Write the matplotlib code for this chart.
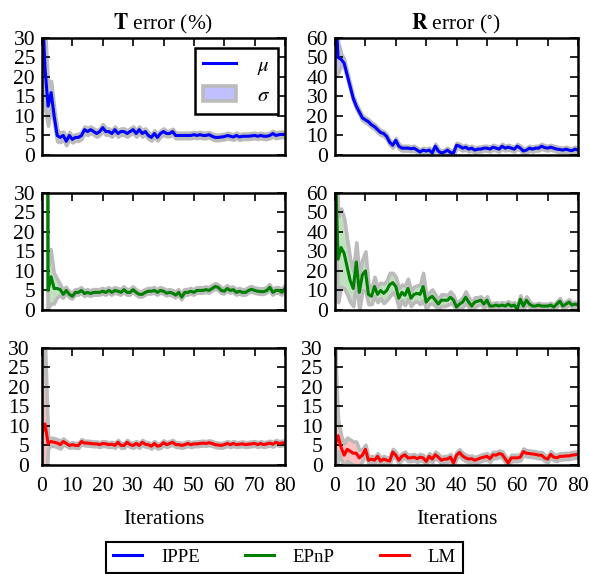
import numpy as np
import matplotlib
matplotlib.use('Agg')
import matplotlib.pyplot as plt
from matplotlib.patches import Patch
from matplotlib.lines import Line2D

plt.rcParams['font.family'] = ['Liberation Serif', 'DejaVu Serif']
plt.rcParams['mathtext.fontset'] = 'stix'
plt.rcParams['font.size'] = 15.5

iterations = np.arange(0, 81)

# IPPE
ippe_t_mu = [40, 22, 12.5, 16, 10, 5, 4.5, 5, 3.5, 5,
             4, 4.5, 4.5, 5, 6.5, 6, 6.5, 6, 5.5, 6,
             7, 6, 6, 5.5, 6.5, 5.5, 6, 6, 5.5, 6,
             6.5, 5.5, 6.5, 5.5, 6, 5, 4.5, 5.5, 4.5, 5.5,
             6, 5.5, 5.5, 6, 5, 5, 5, 5, 5, 5,
             5.2, 5, 5.2, 5, 5, 5.2, 4.8, 4.5, 4.5, 4.6,
             4.7, 5, 4.8, 4.6, 5, 4.6, 4.8, 4.8, 4.8, 4.9,
             5, 4.8, 5, 4.8, 4.8, 5, 5.5, 5, 5.2, 5.3,
             5.2]
ippe_t_sd = [20, 10, 5, 3, 2, 1.5, 1.2, 1, 1, 0.9,
             0.8, 0.8, 0.9, 0.8, 0.8, 0.9, 0.8, 0.8, 0.8, 0.8,
             0.9, 0.8, 0.8, 0.8, 0.8, 0.8, 0.8, 0.8, 0.8, 0.8,
             0.8, 0.8, 0.8, 0.8, 0.8, 0.8, 0.8, 0.8, 0.8, 0.8,
             0.8, 0.7, 0.7, 0.7, 0.7, 0.7, 0.7, 0.7, 0.7, 0.7,
             0.7, 0.7, 0.7, 0.7, 0.7, 0.7, 0.7, 0.7, 0.7, 0.7,
             0.7, 0.7, 0.7, 0.7, 0.7, 0.7, 0.7, 0.7, 0.7, 0.7,
             0.7, 0.7, 0.7, 0.7, 0.7, 0.7, 0.7, 0.7, 0.7, 0.7,
             0.7]
ippe_r_mu = [80, 50, 49, 47, 41, 35, 29, 25, 22, 19,
             18, 17, 15.5, 14.5, 13, 11.5, 11, 9.5, 6.5, 5,
             7.5, 4.5, 3.5, 3.5, 3.5, 3.2, 3.5, 2.5, 1.5, 2.5,
             2, 2.5, 1, 4.5, 2, 1, 1.5, 2.5, 1.2, 1,
             5, 4.5, 3.5, 4, 3, 3.5, 2.5, 3, 3, 3.5,
             3.5, 3, 4, 3.5, 3, 4.5, 3.5, 4, 3.5, 3,
             4.5, 3.5, 2, 2.5, 3.5, 3, 3.5, 3.5, 4.5, 3.8,
             3.5, 4, 3.5, 3, 2.8, 2.5, 3, 2.5, 2.2, 3,
             2.5]
ippe_r_sd = [40, 8, 3, 2, 1.5, 1.2, 1.2, 1.2, 1.2, 1.2,
             1.2, 1.2, 1.2, 1.2, 1.2, 1.2, 1.2, 1.2, 1.2, 1.2,
             1.2, 1.2, 1.2, 1.2, 1.2, 1.2, 1.2, 1.2, 1.2, 1.2,
             1.2, 1.2, 1.2, 1.2, 1.2, 1.2, 1.2, 1.2, 1.2, 1.2,
             1.2, 1.2, 1.2, 1.2, 1.2, 1.2, 1.2, 1.2, 1.2, 1.2,
             1.2, 1.2, 1.2, 1.2, 1.2, 1.2, 1.2, 1.2, 1.2, 1.2,
             1.2, 1.2, 1.2, 1.2, 1.2, 1.2, 1.2, 1.2, 1.2, 1.2,
             1.2, 1.2, 1.2, 1.2, 1.2, 1.2, 1.2, 1.2, 1.2, 1.2,
             1.2]

# EPnP
epnp_t_mu = [300, 300, 5, 8.5, 5.5, 5.5, 5.2, 4, 5, 4,
             3.5, 4.5, 4.5, 5, 4.2, 4.5, 4.2, 4.5, 4.5, 4.5,
             4.8, 4.5, 5, 4.5, 5, 4.8, 4.5, 5.2, 4.5, 4.5,
             5.2, 4.5, 4, 4, 4.5, 4.8, 4.8, 5, 4.5, 5,
             4.8, 4.3, 4.5, 4.3, 3.8, 4.5, 3.3, 4.5, 4.5, 4.8,
             4.5, 5, 5, 5, 5.2, 5, 5.5, 6, 5.8, 5,
             4.8, 5.5, 5, 5.2, 4.5, 4.8, 4.5, 4.5, 5, 5.3,
             5, 4.8, 4.7, 4.7, 5, 5.8, 4.5, 5, 5, 4.5,
             5.5]
epnp_t_sd = [10, 10, 5, 7, 4, 2.5, 1.5, 1, 0.8, 0.8,
             0.7, 0.7, 0.7, 0.7, 0.7, 0.7, 0.7, 0.7, 0.7, 0.7,
             0.7, 0.7, 0.7, 0.7, 0.7, 0.7, 0.7, 0.7, 0.7, 0.7,
             0.7, 0.7, 0.7, 0.7, 0.7, 0.7, 0.7, 0.7, 0.7, 0.7,
             0.7, 0.7, 0.7, 0.7, 0.7, 0.7, 0.7, 0.7, 0.7, 0.7,
             0.7, 0.7, 0.7, 0.7, 0.7, 0.7, 0.7, 0.7, 0.7, 0.7,
             0.7, 0.7, 0.7, 0.7, 0.7, 0.7, 0.7, 0.7, 0.7, 0.7,
             0.7, 0.7, 0.7, 0.7, 0.7, 0.7, 0.7, 0.7, 0.7, 0.7,
             0.7]
epnp_r_mu = [80, 26, 32, 29, 22, 15, 11, 24.6, 9, 18,
             20, 8, 7, 12, 8, 10, 8.5, 10, 13, 14,
             12, 6, 9, 7.5, 11, 6, 8, 8.5, 8, 12,
             4, 6, 7, 5, 3, 5, 5, 5, 6.5, 5,
             1.5, 3, 4, 6.5, 4, 2, 4, 4.5, 5, 3,
             5, 2, 2, 2.5, 2, 2.5, 2, 3, 2, 2.5,
             0.5, 5.5, 2, 5, 3, 2, 2, 2.5, 2, 2,
             2, 2.5, 1.5, 3, 4.5, 2, 3, 4, 2.5, 3,
             2.5]
epnp_r_sd = [30, 22, 20, 18, 14, 11, 9, 10, 9, 8,
             10, 5, 4, 5, 4, 4, 5, 5, 6, 5,
             5, 5, 4, 5, 5, 4, 4, 4, 5, 7,
             3.5, 3, 3.5, 3, 2.5, 3, 3, 2.5, 3, 2.5,
             2, 2, 2.5, 3, 2.5, 2, 2.5, 2, 2, 2,
             2, 1.5, 1.5, 1.5, 1.5, 1.5, 1.5, 1.5, 1.5, 1.5,
             1.5, 2, 1.5, 2, 1.5, 1.2, 1.2, 1.2, 1.2, 1.2,
             1.2, 1.2, 1.2, 1.5, 1.5, 1.2, 1.5, 1.5, 1.2, 1.2,
             1.2]

# LM
lm_t_mu = [8, 10.5, 5.5, 6, 5.8, 5.6, 5.2, 6, 5.5, 5,
           5.2, 5, 5, 6, 5.6, 5.6, 5.5, 5.4, 5.4, 5.2,
           5.5, 5.4, 5.2, 5.3, 5, 5.8, 5, 5, 5.8, 5.2,
           5, 5.5, 5, 5.8, 5.3, 5.2, 4.8, 5.5, 4.8, 5,
           5.7, 5.2, 5.5, 5.8, 5.2, 5.2, 5, 5.2, 5.5, 5.2,
           5.4, 5.4, 5.5, 5.6, 5.5, 5.7, 5.5, 5.2, 5.1, 5,
           5.2, 5.5, 5.2, 5.5, 5.2, 5.3, 5.4, 5.2, 5.3, 5.4,
           5.5, 5.2, 5.5, 5.2, 5.4, 5.6, 5.3, 5.8, 5.5, 5.6,
           5.7]
lm_t_sd = [25, 20, 1.2, 1, 1, 1, 1, 0.8, 0.6, 0.6,
           0.6, 0.6, 0.6, 0.6, 0.6, 0.6, 0.6, 0.6, 0.6, 0.6,
           0.6, 0.6, 0.6, 0.6, 0.6, 0.6, 0.6, 0.6, 0.6, 0.6,
           0.6, 0.6, 0.6, 0.6, 0.6, 0.6, 0.6, 0.6, 0.6, 0.6,
           0.6, 0.6, 0.6, 0.6, 0.6, 0.6, 0.6, 0.6, 0.6, 0.6,
           0.6, 0.6, 0.6, 0.6, 0.6, 0.6, 0.6, 0.6, 0.6, 0.6,
           0.6, 0.6, 0.6, 0.6, 0.6, 0.6, 0.6, 0.6, 0.6, 0.6,
           0.6, 0.6, 0.6, 0.6, 0.6, 0.6, 0.6, 0.6, 0.6, 0.6,
           0.6]
lm_r_mu = [5, 7.5, 4.5, 2.5, 4, 3.5, 3, 3, 1.8, 2.5,
           4, 1.2, 1.5, 1.2, 2.2, 1, 1.5, 1.2, 1, 3.3,
           2.5, 1.2, 2.2, 2.6, 1.8, 1.8, 2, 1.6, 2, 1.8,
           0.9, 2.2, 1.5, 2.6, 2, 1.2, 1.5, 1.5, 2, 0.5,
           2.5, 3.2, 2.3, 1.8, 1.5, 1.6, 1.2, 1.5, 1.8, 2,
           2.2, 1.6, 2.6, 2.5, 2.9, 2.7, 1.6, 0.5, 1.8, 1.8,
           1.8, 2, 3.4, 3, 2.9, 2.8, 2.7, 2.5, 2.5, 1.8,
           1.5, 2.7, 2, 1.8, 2.2, 2.2, 2.3, 2.3, 2.5, 2.6,
           2.7]
lm_r_sd = [25, 4, 3, 3, 3, 3, 3, 3, 2, 1.5,
           1.2, 0.8, 0.8, 0.8, 0.8, 0.8, 0.8, 0.8, 0.8, 0.8,
           0.8, 0.8, 0.8, 0.8, 0.8, 0.8, 0.8, 0.8, 0.8, 0.8,
           0.8, 0.8, 0.8, 0.8, 0.8, 0.8, 0.8, 0.8, 0.8, 0.8,
           0.8, 0.8, 0.8, 0.8, 0.8, 0.8, 0.8, 0.8, 0.8, 0.8,
           0.8, 0.8, 0.8, 0.8, 0.8, 0.8, 0.8, 0.8, 0.8, 0.8,
           0.8, 0.8, 0.8, 0.8, 0.8, 0.8, 0.8, 0.8, 0.8, 0.8,
           0.8, 0.8, 0.8, 0.8, 0.8, 0.8, 0.8, 0.8, 0.8, 0.8,
           0.8]

methods = ['IPPE', 'EPnP', 'LM']
line_colors = ['#0000ff', '#008000', '#ff0000']
band_colors = ['#c0c0ff', '#c0e0c0', '#ffc0c0']
t_series = [(ippe_t_mu, ippe_t_sd), (epnp_t_mu, epnp_t_sd), (lm_t_mu, lm_t_sd)]
r_series = [(ippe_r_mu, ippe_r_sd), (epnp_r_mu, epnp_r_sd), (lm_r_mu, lm_r_sd)]
r_ymax = [60, 60, 30]

fig = plt.figure(figsize=(5.89, 5.74), dpi=100)
col_left = [0.0713, 0.5688]
row_bottom = [0.730, 0.460, 0.190]
w, h = 0.4126, 0.204


def draw(ax, mu, sd, lc, bc, ymax):
    mu = np.array(mu)
    sd = np.array(sd)
    ax.fill_between(iterations, mu - sd, mu + sd, facecolor=bc,
                    edgecolor='#bbbbbb', linewidth=2.6)
    ax.plot(iterations, mu, color=lc, lw=2.2)
    ax.set_xlim(0, 80)
    ax.set_ylim(0, ymax)
    ax.set_xticks(np.arange(0, 81, 10))
    step = 5 if ymax == 30 else 10
    ax.set_yticks(np.arange(0, ymax + 1, step))
    ax.tick_params(direction='in', length=5.5, width=1.2, top=True, right=True,
                   bottom=False, pad=5, labelsize=15.5)
    for s in ax.spines.values():
        s.set_linewidth(1.8)


axes = []
for i in range(3):
    ax_t = fig.add_axes([col_left[0], row_bottom[i], w, h])
    ax_r = fig.add_axes([col_left[1], row_bottom[i], w, h])
    draw(ax_t, t_series[i][0], t_series[i][1], line_colors[i], band_colors[i], 30)
    draw(ax_r, r_series[i][0], r_series[i][1], line_colors[i], band_colors[i], r_ymax[i])
    if i < 2:
        ax_t.tick_params(labelbottom=False)
        ax_r.tick_params(labelbottom=False)
    else:
        ax_t.tick_params(pad=9)
        ax_r.tick_params(pad=9)
        ax_t.set_xlabel('Iterations', labelpad=10)
        ax_r.set_xlabel('Iterations', labelpad=10)
    axes.append((ax_t, ax_r))

axes[0][0].set_title(r'$\mathbf{T}$ error (%)', pad=6, fontsize=15.5)
axes[0][1].set_title(r'$\mathbf{R}$ error ($^{\circ}$)', pad=6, fontsize=15.5)

# mu / sigma legend
h_mu = Line2D([], [], color='#0000ff', lw=2.2)
h_sig = Patch(facecolor='#c0c0ff', edgecolor='#bbbbbb', linewidth=2.6)
leg = axes[0][0].legend([h_mu, h_sig], [r'$\mu$', r'$\sigma$'], loc='upper right',
                        bbox_to_anchor=(0.971, 0.915), borderaxespad=0.0,
                        fancybox=False, edgecolor='black', framealpha=1,
                        handlelength=1.55, handletextpad=1.0, borderpad=0.4,
                        labelspacing=0.45, fontsize=15)
leg.get_frame().set_linewidth(1.8)

# method legend
handles = [Line2D([], [], color=c, lw=2.2) for c in line_colors]
fleg = fig.legend(handles, methods, loc='lower center', ncol=3,
                  bbox_to_anchor=(0.483, 1 / 574), fancybox=False,
                  edgecolor='black', framealpha=1, handlelength=1.55,
                  handletextpad=1.0, columnspacing=2.4, borderpad=0.38,
                  borderaxespad=0.0, fontsize=13.5)
fleg.get_frame().set_linewidth(1.5)

fig.savefig('out.png', dpi=100)
